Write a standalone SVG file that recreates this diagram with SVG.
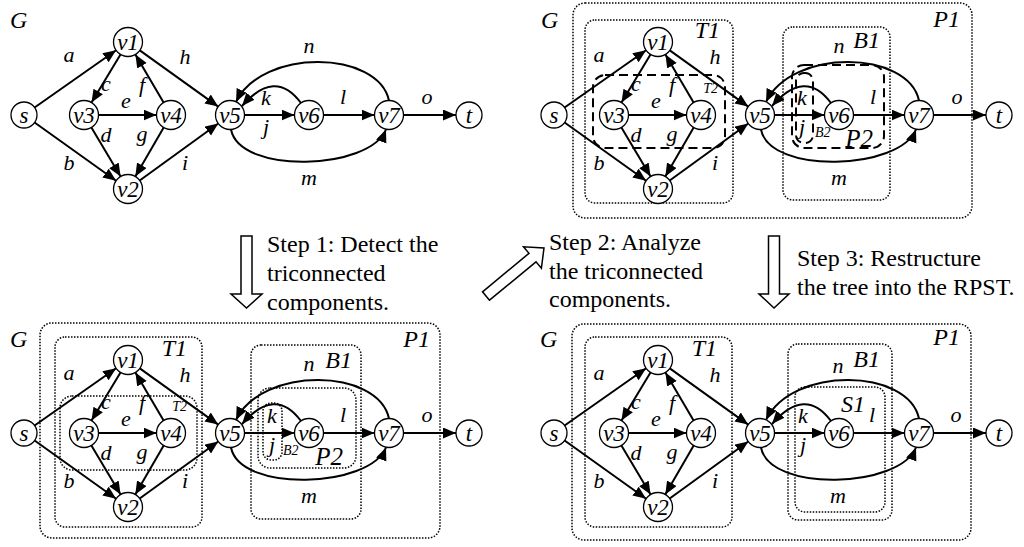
<svg xmlns="http://www.w3.org/2000/svg" width="1024" height="547" viewBox="0 0 1024 547">
<style>
.e{fill:none;stroke:#000;stroke-width:2;marker-end:url(#ah)}
.n{fill:#fff;stroke:#000;stroke-width:1.3}
.nl{font-family:"Liberation Serif",serif;font-style:italic;font-size:23px;text-anchor:middle}
.el{font-family:"Liberation Serif",serif;font-style:italic;font-size:22px;text-anchor:middle}
.bl{font-family:"Liberation Serif",serif;font-style:italic;font-size:24px;text-anchor:end}
.sl{font-family:"Liberation Serif",serif;font-style:italic;font-size:14px}
.dot{fill:none;stroke:#000;stroke-width:1.5;stroke-dasharray:1.5 1.5}
.dash{fill:none;stroke:#000;stroke-width:2;stroke-dasharray:9 5}
.st{font-family:"Liberation Serif",serif;font-size:24px}
.arr{fill:#fff;stroke:#000;stroke-width:1.5}
</style>
<defs>
<marker id="ah" markerUnits="userSpaceOnUse" markerWidth="14" markerHeight="12" refX="13" refY="5.5" orient="auto">
<path d="M0,0 L13,5.5 L0,11 z" fill="#000"/>
</marker>
</defs>
<rect width="1024" height="547" fill="#fff"/>

<!-- Quadrant 1 -->
<g id="q1" transform="translate(0,0)">
<text class="bl" x="10" y="28" style="text-anchor:start">G</text>
<g id="q1-edges">
<path class="e" d="M34.6,107.5 L116.1,50.3"/>
<path class="e" d="M34.6,122.5 L116.1,180.7"/>
<path class="e" d="M120.5,54.4 L91.5,102.6"/>
<path class="e" d="M98.5,115 L156.5,115"/>
<path class="e" d="M163.6,102.5 L135.4,54.5"/>
<path class="e" d="M91.4,127.5 L120.6,176.5"/>
<path class="e" d="M163.7,127.5 L135.3,176.5"/>
<path class="e" d="M139.8,50.4 L218.2,106.6"/>
<path class="e" d="M139.7,180.5 L218.3,123.5"/>
<path class="e" d="M244.5,115 L294.5,115"/>
<path class="e" d="M301,103 Q275,68 242,106"/>
<path class="e" d="M323.5,115 L374.5,115"/>
<path class="e" d="M403.5,115 L456,115"/>
<path class="e" d="M389,100.5 C378,50 262,48 236,102"/>
<path class="e" d="M231,129.5 C240,175 370,170 386,129.5"/>
<text class="el" x="69" y="62">a</text>
<text class="el" x="69" y="170">b</text>
<text class="el" x="106" y="91">c</text>
<text class="el" x="106" y="142">d</text>
<text class="el" x="126" y="108">e</text>
<text class="el" x="142" y="92">f</text>
<text class="el" x="142" y="141">g</text>
<text class="el" x="185" y="64">h</text>
<text class="el" x="185" y="170">i</text>
<text class="el" x="266" y="105">k</text>
<text class="el" x="266" y="134">j</text>
<text class="el" x="343" y="104">l</text>
<text class="el" x="309" y="53">n</text>
<text class="el" x="309" y="185">m</text>
<text class="el" x="427" y="104">o</text>
</g>
<g id="q1-s"><circle class="n" cx="24" cy="115" r="13"/><text class="nl" x="24" y="122.5">s</text></g>
<g id="q1-v1"><circle class="n" cx="128" cy="42" r="14.5"/><text class="nl" x="128" y="50">v1</text></g>
<g id="q1-v3"><circle class="n" cx="84" cy="115" r="14.5"/><text class="nl" x="84" y="123">v3</text></g>
<g id="q1-v4"><circle class="n" cx="171" cy="115" r="14.5"/><text class="nl" x="171" y="123">v4</text></g>
<g id="q1-v2"><circle class="n" cx="128" cy="189" r="14.5"/><text class="nl" x="128" y="197">v2</text></g>
<g id="q1-v5"><circle class="n" cx="230" cy="115" r="14.5"/><text class="nl" x="230" y="123">v5</text></g>
<g id="q1-v6"><circle class="n" cx="309" cy="115" r="14.5"/><text class="nl" x="309" y="123">v6</text></g>
<g id="q1-v7"><circle class="n" cx="389" cy="115" r="14.5"/><text class="nl" x="389" y="123">v7</text></g>
<g id="q1-t"><circle class="n" cx="469" cy="115" r="13"/><text class="nl" x="469" y="122.5">t</text></g>
</g>

<!-- Quadrant 2 -->
<g id="q2" transform="translate(530,0)">
<g id="q2-P1"><rect class="dot" x="43" y="3" width="399" height="215" rx="12"/><text class="bl" x="430" y="27">P1</text></g>
<g id="q2-T1"><rect class="dot" x="55" y="20" width="148" height="183" rx="10"/><text class="bl" x="190" y="38">T1</text></g>
<g id="q2-T2"><rect class="dash" x="63" y="75" width="132" height="73" rx="12"/><text class="sl" x="188" y="93" text-anchor="end">T2</text></g>
<g id="q2-B1"><rect class="dot" x="253" y="27" width="107" height="173" rx="10"/><text class="bl" x="350" y="48">B1</text></g>
<g id="q2-P2"><rect class="dash" x="262" y="65" width="92" height="83" rx="12"/><text class="bl" x="343" y="147" style="font-size:25px">P2</text></g>
<g id="q2-B2"><rect class="dash" x="266" y="73" width="17" height="70" rx="8"/><text class="sl" x="285" y="137">B2</text></g>
<text class="bl" x="11" y="28" style="text-anchor:start">G</text>
<g id="q2-edges">
<path class="e" d="M34.6,107.5 L116.1,50.3"/>
<path class="e" d="M34.6,122.5 L116.1,180.7"/>
<path class="e" d="M120.5,54.4 L91.5,102.6"/>
<path class="e" d="M98.5,115 L156.5,115"/>
<path class="e" d="M163.6,102.5 L135.4,54.5"/>
<path class="e" d="M91.4,127.5 L120.6,176.5"/>
<path class="e" d="M163.7,127.5 L135.3,176.5"/>
<path class="e" d="M139.8,50.4 L218.2,106.6"/>
<path class="e" d="M139.7,180.5 L218.3,123.5"/>
<path class="e" d="M244.5,115 L294.5,115"/>
<path class="e" d="M301,103 Q275,68 242,106"/>
<path class="e" d="M323.5,115 L374.5,115"/>
<path class="e" d="M403.5,115 L456,115"/>
<path class="e" d="M389,100.5 C378,50 262,48 236,102"/>
<path class="e" d="M231,129.5 C240,175 370,170 386,129.5"/>
<text class="el" x="69" y="62">a</text>
<text class="el" x="69" y="170">b</text>
<text class="el" x="106" y="91">c</text>
<text class="el" x="106" y="142">d</text>
<text class="el" x="126" y="108">e</text>
<text class="el" x="142" y="92">f</text>
<text class="el" x="142" y="141">g</text>
<text class="el" x="185" y="64">h</text>
<text class="el" x="185" y="170">i</text>
<text class="el" x="272" y="105">k</text>
<text class="el" x="272" y="134">j</text>
<text class="el" x="343" y="104">l</text>
<text class="el" x="309" y="53">n</text>
<text class="el" x="309" y="185">m</text>
<text class="el" x="427" y="104">o</text>
</g>
<g id="q2-s"><circle class="n" cx="24" cy="115" r="13"/><text class="nl" x="24" y="122.5">s</text></g>
<g id="q2-v1"><circle class="n" cx="128" cy="42" r="14.5"/><text class="nl" x="128" y="50">v1</text></g>
<g id="q2-v3"><circle class="n" cx="84" cy="115" r="14.5"/><text class="nl" x="84" y="123">v3</text></g>
<g id="q2-v4"><circle class="n" cx="171" cy="115" r="14.5"/><text class="nl" x="171" y="123">v4</text></g>
<g id="q2-v2"><circle class="n" cx="128" cy="189" r="14.5"/><text class="nl" x="128" y="197">v2</text></g>
<g id="q2-v5"><circle class="n" cx="230" cy="115" r="14.5"/><text class="nl" x="230" y="123">v5</text></g>
<g id="q2-v6"><circle class="n" cx="309" cy="115" r="14.5"/><text class="nl" x="309" y="123">v6</text></g>
<g id="q2-v7"><circle class="n" cx="389" cy="115" r="14.5"/><text class="nl" x="389" y="123">v7</text></g>
<g id="q2-t"><circle class="n" cx="469" cy="115" r="13"/><text class="nl" x="469" y="122.5">t</text></g>
</g>

<!-- Quadrant 3 -->
<g id="q3" transform="translate(0,318)">
<g id="q3-P1"><rect class="dot" x="40" y="5" width="400" height="215" rx="12"/><text class="bl" x="430" y="29">P1</text></g>
<g id="q3-T1"><rect class="dot" x="55" y="19" width="147" height="190" rx="10"/><text class="bl" x="187" y="38">T1</text></g>
<g id="q3-T2"><rect class="dot" x="60" y="78" width="137" height="74" rx="12"/><text class="sl" x="187" y="93" text-anchor="end">T2</text></g>
<g id="q3-B1"><rect class="dot" x="251" y="27" width="110" height="174" rx="10"/><text class="bl" x="352" y="50">B1</text></g>
<g id="q3-P2"><rect class="dot" x="258" y="70" width="98" height="80" rx="12"/><text class="bl" x="343" y="147" style="font-size:25px">P2</text></g>
<g id="q3-B2"><rect class="dot" x="263" y="85" width="19" height="57" rx="8"/><text class="sl" x="283" y="137">B2</text></g>
<text class="bl" x="10" y="29" style="text-anchor:start">G</text>
<g id="q3-edges">
<path class="e" d="M34.6,107.5 L116.1,50.3"/>
<path class="e" d="M34.6,122.5 L116.1,180.7"/>
<path class="e" d="M120.5,54.4 L91.5,102.6"/>
<path class="e" d="M98.5,115 L156.5,115"/>
<path class="e" d="M163.6,102.5 L135.4,54.5"/>
<path class="e" d="M91.4,127.5 L120.6,176.5"/>
<path class="e" d="M163.7,127.5 L135.3,176.5"/>
<path class="e" d="M139.8,50.4 L218.2,106.6"/>
<path class="e" d="M139.7,180.5 L218.3,123.5"/>
<path class="e" d="M244.5,115 L294.5,115"/>
<path class="e" d="M301,103 Q275,68 242,106"/>
<path class="e" d="M323.5,115 L374.5,115"/>
<path class="e" d="M403.5,115 L456,115"/>
<path class="e" d="M389,100.5 C378,50 262,48 236,102"/>
<path class="e" d="M231,129.5 C240,175 370,170 386,129.5"/>
<text class="el" x="69" y="62">a</text>
<text class="el" x="69" y="170">b</text>
<text class="el" x="106" y="91">c</text>
<text class="el" x="106" y="142">d</text>
<text class="el" x="126" y="108">e</text>
<text class="el" x="142" y="92">f</text>
<text class="el" x="142" y="141">g</text>
<text class="el" x="185" y="64">h</text>
<text class="el" x="185" y="170">i</text>
<text class="el" x="272" y="105">k</text>
<text class="el" x="272" y="134">j</text>
<text class="el" x="343" y="104">l</text>
<text class="el" x="309" y="53">n</text>
<text class="el" x="309" y="185">m</text>
<text class="el" x="427" y="104">o</text>
</g>
<g id="q3-s"><circle class="n" cx="24" cy="115" r="13"/><text class="nl" x="24" y="122.5">s</text></g>
<g id="q3-v1"><circle class="n" cx="128" cy="42" r="14.5"/><text class="nl" x="128" y="50">v1</text></g>
<g id="q3-v3"><circle class="n" cx="84" cy="115" r="14.5"/><text class="nl" x="84" y="123">v3</text></g>
<g id="q3-v4"><circle class="n" cx="171" cy="115" r="14.5"/><text class="nl" x="171" y="123">v4</text></g>
<g id="q3-v2"><circle class="n" cx="128" cy="189" r="14.5"/><text class="nl" x="128" y="197">v2</text></g>
<g id="q3-v5"><circle class="n" cx="230" cy="115" r="14.5"/><text class="nl" x="230" y="123">v5</text></g>
<g id="q3-v6"><circle class="n" cx="309" cy="115" r="14.5"/><text class="nl" x="309" y="123">v6</text></g>
<g id="q3-v7"><circle class="n" cx="389" cy="115" r="14.5"/><text class="nl" x="389" y="123">v7</text></g>
<g id="q3-t"><circle class="n" cx="469" cy="115" r="13"/><text class="nl" x="469" y="122.5">t</text></g>
</g>

<!-- Quadrant 4 -->
<g id="q4" transform="translate(530,318)">
<g id="q4-P1"><rect class="dot" x="42" y="6" width="399" height="216" rx="12"/><text class="bl" x="430" y="27">P1</text></g>
<g id="q4-T1"><rect class="dot" x="55" y="19" width="147" height="190" rx="10"/><text class="bl" x="187" y="38">T1</text></g>
<g id="q4-B1"><rect class="dot" x="258" y="26" width="104" height="176" rx="10"/><text class="bl" x="350" y="49">B1</text></g>
<g id="q4-S1"><rect class="dot" x="265" y="69" width="90" height="125" rx="10"/><text class="bl" x="335" y="94">S1</text></g>
<text class="bl" x="10" y="29" style="text-anchor:start">G</text>
<g id="q4-edges">
<path class="e" d="M34.6,107.5 L116.1,50.3"/>
<path class="e" d="M34.6,122.5 L116.1,180.7"/>
<path class="e" d="M120.5,54.4 L91.5,102.6"/>
<path class="e" d="M98.5,115 L156.5,115"/>
<path class="e" d="M163.6,102.5 L135.4,54.5"/>
<path class="e" d="M91.4,127.5 L120.6,176.5"/>
<path class="e" d="M163.7,127.5 L135.3,176.5"/>
<path class="e" d="M139.8,50.4 L218.2,106.6"/>
<path class="e" d="M139.7,180.5 L218.3,123.5"/>
<path class="e" d="M244.5,115 L294.5,115"/>
<path class="e" d="M301,103 Q275,68 242,106"/>
<path class="e" d="M323.5,115 L374.5,115"/>
<path class="e" d="M403.5,115 L456,115"/>
<path class="e" d="M389,100.5 C378,50 262,48 236,102"/>
<path class="e" d="M231,129.5 C240,175 370,170 386,129.5"/>
<text class="el" x="69" y="62">a</text>
<text class="el" x="69" y="170">b</text>
<text class="el" x="106" y="91">c</text>
<text class="el" x="106" y="142">d</text>
<text class="el" x="126" y="108">e</text>
<text class="el" x="142" y="92">f</text>
<text class="el" x="142" y="141">g</text>
<text class="el" x="185" y="64">h</text>
<text class="el" x="185" y="170">i</text>
<text class="el" x="273" y="105">k</text>
<text class="el" x="273" y="134">j</text>
<text class="el" x="342" y="104">l</text>
<text class="el" x="308" y="55">n</text>
<text class="el" x="308" y="185">m</text>
<text class="el" x="426" y="104">o</text>
</g>
<g id="q4-s"><circle class="n" cx="24" cy="115" r="13"/><text class="nl" x="24" y="122.5">s</text></g>
<g id="q4-v1"><circle class="n" cx="128" cy="42" r="14.5"/><text class="nl" x="128" y="50">v1</text></g>
<g id="q4-v3"><circle class="n" cx="84" cy="115" r="14.5"/><text class="nl" x="84" y="123">v3</text></g>
<g id="q4-v4"><circle class="n" cx="171" cy="115" r="14.5"/><text class="nl" x="171" y="123">v4</text></g>
<g id="q4-v2"><circle class="n" cx="128" cy="189" r="14.5"/><text class="nl" x="128" y="197">v2</text></g>
<g id="q4-v5"><circle class="n" cx="230" cy="115" r="14.5"/><text class="nl" x="230" y="123">v5</text></g>
<g id="q4-v6"><circle class="n" cx="309" cy="115" r="14.5"/><text class="nl" x="309" y="123">v6</text></g>
<g id="q4-v7"><circle class="n" cx="389" cy="115" r="14.5"/><text class="nl" x="389" y="123">v7</text></g>
<g id="q4-t"><circle class="n" cx="469" cy="115" r="13"/><text class="nl" x="469" y="122.5">t</text></g>
</g>

<!-- Steps -->
<g id="step1">
<polygon class="arr" points="241,236 252,236 252,294 262,294 246.5,308 231,294 241,294"/>
<text class="st" x="267" y="252">Step 1: Detect the</text>
<text class="st" x="267" y="281">triconnected</text>
<text class="st" x="267" y="310">components.</text>
</g>
<g id="step2">
<polygon class="arr" points="489.5,300.2 482.5,291.8 529,253.3 523.5,246.8 544,248 541.4,268.3 536,261.8"/>
<text class="st" x="549" y="250">Step 2: Analyze</text>
<text class="st" x="549" y="279">the triconnected</text>
<text class="st" x="549" y="307">components.</text>
</g>
<g id="step3">
<polygon class="arr" points="768.5,236 779.5,236 779.5,294 789,294 774,308 759,294 768.5,294"/>
<text class="st" x="797" y="266">Step 3: Restructure</text>
<text class="st" x="797" y="295">the tree into the RPST.</text>
</g>
</svg>
